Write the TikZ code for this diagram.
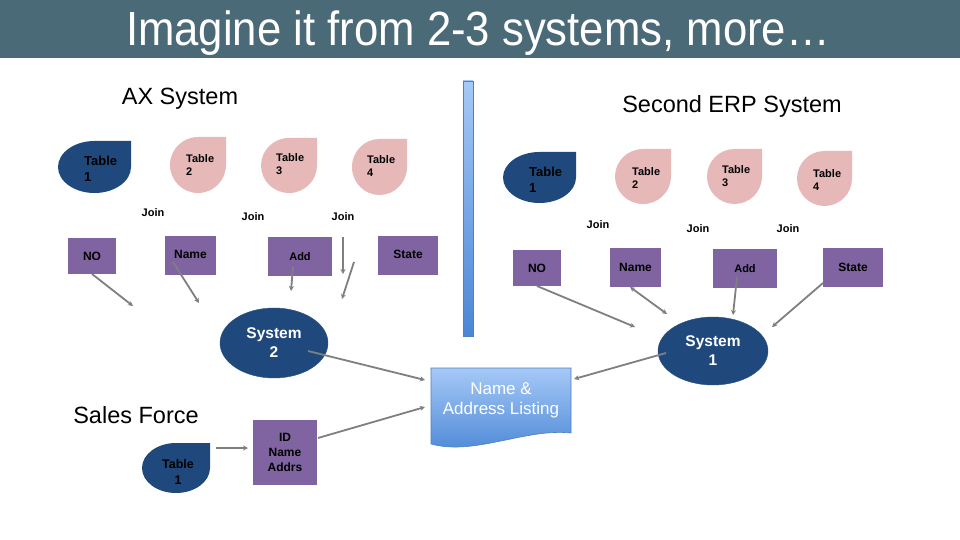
\documentclass[tikz,border=0pt]{standalone}
\usepackage{fontspec}
\setmainfont{Liberation Sans}
\usetikzlibrary{shapes.geometric,arrows.meta}
\definecolor{titlebg}{HTML}{4A6A77}
\definecolor{dkblue}{HTML}{1F497D}
\definecolor{dkedge}{HTML}{2C4F7E}
\definecolor{pinkt}{HTML}{E6B9B8}
\definecolor{purp}{HTML}{8064A2}
\definecolor{agray}{HTML}{7F7F7F}
\definecolor{ltblue}{HTML}{A5C9F7}
\definecolor{mdblue}{HTML}{4A86D6}
\definecolor{docedge}{HTML}{4F81BD}
\newcommand\tdrop[5]{%
 \pgfmathsetmacro\tcx{(#1+#3)/2}\pgfmathsetmacro\tcy{(#2+#4)/2}%
 \pgfmathsetmacro\ta{(#3-#1)/2}\pgfmathsetmacro\tb{(#4-#2)/2}%
 \pgfmathsetmacro\tka{0.5523*\ta}\pgfmathsetmacro\tkb{0.5523*\tb}%
 \fill[#5] (#3,#2) -- (#3,\tcy) .. controls (#3,\tcy+\tkb) and (\tcx+\tka,#4) .. (\tcx,#4)
   .. controls (\tcx-\tka,#4) and (#1,\tcy+\tkb) .. (#1,\tcy)
   .. controls (#1,\tcy-\tkb) and (\tcx-\tka,#2) .. (\tcx,#2) -- cycle;}
\begin{document}
\begin{tikzpicture}[x=1pt,y=-1pt,
  tbig/.style={font=\fontsize{13}{16}\selectfont\bfseries, align=left, inner sep=0pt, anchor=west},
  tsmall/.style={font=\fontsize{11}{13}\selectfont\bfseries, align=left, inner sep=0pt, anchor=west},
  joinlbl/.style={font=\fontsize{11}{13}\selectfont\bfseries, inner sep=0pt},
  heading/.style={font=\fontsize{23.5}{26}\selectfont, inner sep=0pt},
  fieldbox/.style={fill=purp, inner sep=0pt, font=\fontsize{12}{14}\selectfont\bfseries},
  sysell/.style={ellipse, fill=dkblue, draw=dkedge, inner sep=0pt, text=white, align=center,
     font=\fontsize{15.5}{19}\selectfont\bfseries},
  arr/.style={draw=agray, line width=1.8pt, -{Stealth[length=5pt,width=5pt]}},
  darr/.style={draw=agray, line width=1.8pt, {Stealth[length=5pt,width=5pt]}-{Stealth[length=5pt,width=5pt]}}
]
\useasboundingbox (0,0) rectangle (960,540);
\fill[white] (0,0) rectangle (960,540);
% title bar
\fill[titlebg] (0,0) rectangle (960,58);
\node[text=white, anchor=base, inner sep=0pt, font=\fontsize{48}{50}\selectfont] (title) at (478,46)
  {\scalebox{0.91}[1]{Imagine it from 2-3 systems, more\ldots}};
% headings
\node[heading] (ax) at (180,99) {AX System};
\node[heading] (erp) at (732,106) {Second ERP System};
\node[heading] (sf) at (136,415) {Sales Force};
% separator bar
\shadedraw[top color=ltblue, bottom color=mdblue, draw=docedge, line width=0.5pt] (463,81) rectangle (473,336);
% left tables
\tdrop{58}{141}{131}{193}{dkblue}
\tdrop{170}{137}{226}{193}{pinkt}
\tdrop{261}{138}{317}{193}{pinkt}
\tdrop{352}{139}{407}{195}{pinkt}
\node[tbig] (lt1) at (84,169) {Table\\1};
\node[tsmall] (lt2) at (186,165.5) {Table\\2};
\node[tsmall] (lt3) at (276,164.5) {Table\\3};
\node[tsmall] (lt4) at (367,166.5) {Table\\4};
% right tables
\tdrop{503}{152}{576}{203}{dkblue}
\tdrop{615}{149}{671}{204}{pinkt}
\tdrop{707}{149}{762}{204}{pinkt}
\tdrop{797}{151}{852}{206}{pinkt}
\node[tbig] (rt1) at (529,180) {Table\\1};
\node[tsmall] (rt2) at (632,178) {Table\\2};
\node[tsmall] (rt3) at (722,176.5) {Table\\3};
\node[tsmall] (rt4) at (813,180) {Table\\4};
% joins
\node[joinlbl] (lj1) at (153,213) {Join};
\node[joinlbl] (lj2) at (253,217) {Join};
\node[joinlbl] (lj3) at (343,217) {Join};
\node[joinlbl] (rj1) at (598,225) {Join};
\node[joinlbl] (rj2) at (698,229) {Join};
\node[joinlbl] (rj3) at (788,229) {Join};
% left field boxes
\node[fieldbox, minimum width=48pt, minimum height=36pt] (noL) at (92,256) {NO};
\node[fieldbox, minimum width=51pt, minimum height=39pt] (nameL) at (190.5,255.5) {\raisebox{3pt}{Name}};
\node[fieldbox, minimum width=64pt, minimum height=39pt, font=\fontsize{11}{13}\selectfont\bfseries] (addL) at (300,256.5) {Add};
\node[fieldbox, minimum width=60pt, minimum height=39pt] (stateL) at (408,255.5) {\raisebox{2pt}{State}};
% right field boxes
\node[fieldbox, minimum width=48pt, minimum height=36pt] (noR) at (537,268) {NO};
\node[fieldbox, minimum width=51pt, minimum height=39pt] (nameR) at (635.5,267.5) {\raisebox{1pt}{Name}};
\node[fieldbox, minimum width=64pt, minimum height=39pt, font=\fontsize{11}{13}\selectfont\bfseries] (addR) at (745,268.5) {Add};
\node[fieldbox, minimum width=60pt, minimum height=39pt] (stateR) at (853,267.5) {\raisebox{1pt}{State}};
% systems
\node[sysell, minimum width=108pt, minimum height=70pt] (sys2) at (274,343) {System\\2};
\node[sysell, minimum width=110pt, minimum height=68pt] (sys1) at (713,351) {System\\1};
% document
\shadedraw[top color=ltblue, bottom color=mdblue, draw=docedge, line width=0.6pt]
  (431,368) -- (571,368) -- (571,433) .. controls (525,428) and (475,456) .. (431,444) -- cycle;
\node[text=white, align=center, inner sep=0pt, font=\fontsize{17}{20}\selectfont] (doc) at (501,400) {Name \&\\Address Listing};
% sales force
\tdrop{142}{443}{210}{493}{dkblue}
\node[align=center, inner sep=0pt, font=\fontsize{12.5}{16}\selectfont\bfseries] (sft1) at (178,472) {Table\\1};
\node[fill=purp, minimum width=64pt, minimum height=65pt, inner sep=0pt, align=center,
  font=\fontsize{12}{15}\selectfont\bfseries] (idbox) at (285,452.5) {ID\\Name\\Addrs};
% connector end points
\coordinate (a1s) at (92,274);  \coordinate (a1e) at (133,306);
\coordinate (a2s) at (173,262); \coordinate (a2e) at (199,303);
\coordinate (a3s) at (293,267); \coordinate (a3e) at (291,291);
\coordinate (a4s) at (343,237); \coordinate (a4e) at (343,274);
\coordinate (a5s) at (354,262); \coordinate (a5e) at (342,299);
\coordinate (b1s) at (537,286); \coordinate (b1e) at (635,327);
\coordinate (b2s) at (630,287); \coordinate (b2e) at (667,314);
\coordinate (b3s) at (737,277); \coordinate (b3e) at (733,315);
\coordinate (b4s) at (823,283); \coordinate (b4e) at (772,327);
\coordinate (c1s) at (308,351); \coordinate (c1e) at (425,380);
\coordinate (c2s) at (666,353); \coordinate (c2e) at (574,379);
\coordinate (c3s) at (216,448); \coordinate (c3e) at (248,448);
\coordinate (c4s) at (318,438); \coordinate (c4e) at (425,407);
% connectors
\draw[arr] (a1s) -- (a1e);
\draw[arr] (a2s) -- (a2e);
\draw[arr] (a3s) -- (a3e);
\draw[arr] (a4s) -- (a4e);
\draw[arr] (a5s) -- (a5e);
\draw[arr] (b1s) -- (b1e);
\draw[darr] (b2s) -- (b2e);
\draw[arr] (b3s) -- (b3e);
\draw[arr] (b4s) -- (b4e);
\draw[arr] (c1s) -- (c1e);
\draw[arr] (c2s) -- (c2e);
\draw[arr] (c3s) -- (c3e);
\draw[arr] (c4s) -- (c4e);
\end{tikzpicture}
\end{document}
